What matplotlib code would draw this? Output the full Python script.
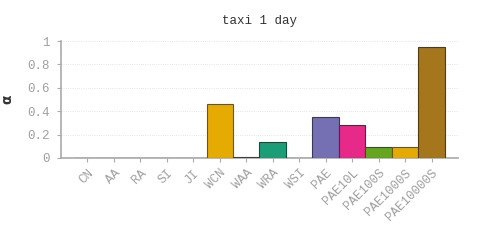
import matplotlib
matplotlib.use("Agg")
import matplotlib.pyplot as plt
import matplotlib.colors as mc

categories = ["CN", "AA", "RA", "SI", "JI", "WCN", "WAA", "WRA", "WSI",
              "PAE", "PAE10L", "PAE100S", "PAE1000S", "PAE10000S"]
values = [0, 0, 0, 0, 0, 0.46, 0.005, 0.14, 0, 0.35, 0.28, 0.095, 0.095, 0.95]
yticks = [0, 0.2, 0.4, 0.6, 0.8, 1]
ytick_labels = ["0", "0.2", "0.4", "0.6", "0.8", "1"]
palette = ["#1b9e77", "#d95f02", "#7570b3", "#e7298a", "#66a61e", "#e6ab02", "#a6761d"]

plt.rcParams['font.family'] = ['Liberation Mono', 'DejaVu Sans Mono']

fig = plt.figure(figsize=(4.91, 2.40), dpi=100)
ax = fig.add_axes([0.124, 0.342, 0.809, 0.487])

colors = [palette[i % 7] for i in range(len(categories))]
edges = [tuple(c * 0.5 for c in mc.to_rgb(col)) for col in colors]
x = list(range(len(categories)))
ax.bar(x, values, width=1.0, color=colors, edgecolor=edges, linewidth=0.8, zorder=3)

ax.set_xlim(-1, 14)
ax.set_ylim(0, 1)
ax.set_yticks(yticks)
ax.set_yticklabels(ytick_labels)
ax.set_xticks(x)
ax.set_xticklabels(categories, rotation=45, ha='right', rotation_mode='anchor')
ax.grid(axis='y', color='#dddddd', linestyle=':', linewidth=0.6, zorder=0)

for s in ['top', 'right']:
    ax.spines[s].set_visible(False)
for s in ['left', 'bottom']:
    ax.spines[s].set_color('#aaaaaa')
    ax.spines[s].set_linewidth(1.2)
ax.tick_params(axis='both', colors='#aaaaaa', labelcolor='#a0a0a0', labelsize=9, length=3, width=0.8)
ax.tick_params(axis='y', pad=5)

ax.set_title("taxi 1 day", fontsize=9, color='#333333', pad=12)
ax.set_ylabel("α", fontsize=10, fontweight='bold', color='#333333', family='DejaVu Sans', labelpad=9)

fig.savefig("out.png", dpi=100)
